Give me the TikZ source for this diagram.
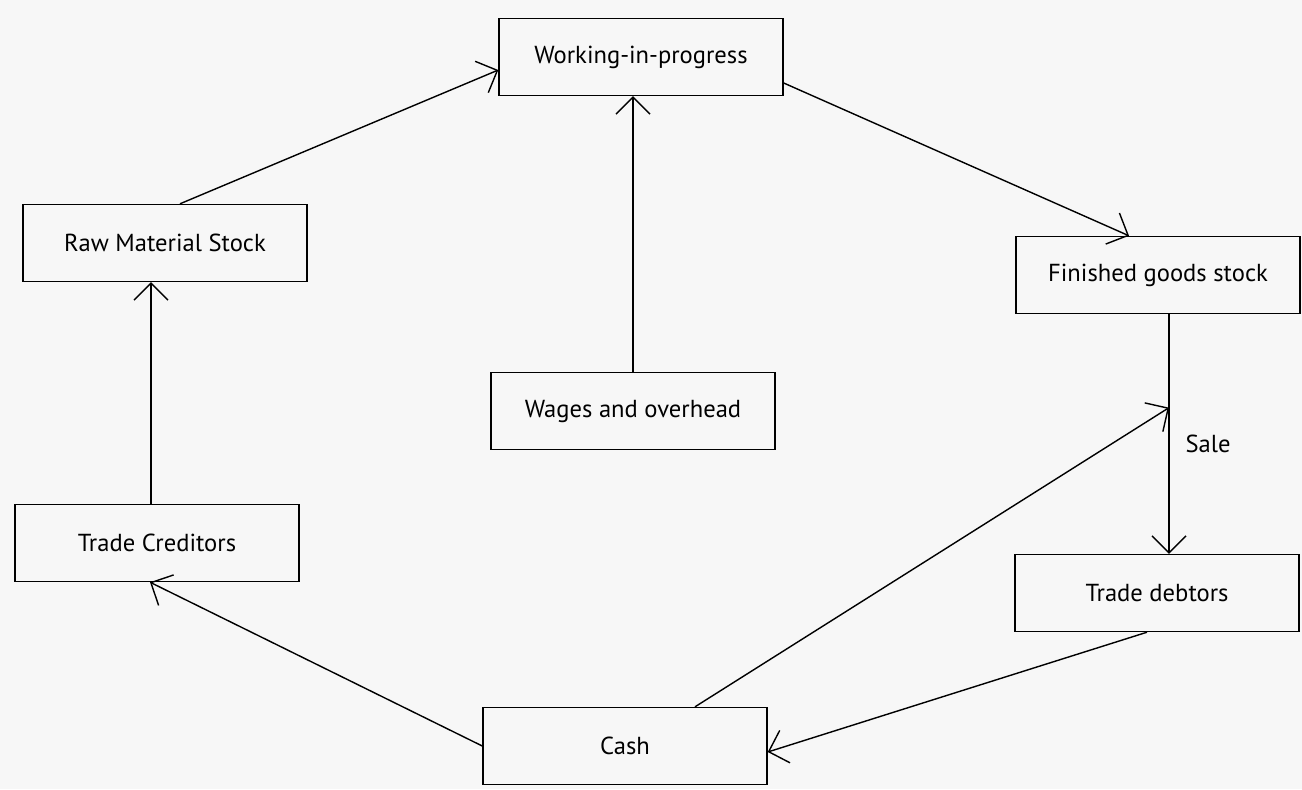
\documentclass[tikz,border=0pt]{standalone}
\usepackage{fontspec}
\setmainfont{PT Sans}
\usepackage{xcolor}
\usepackage{tikz}
\usetikzlibrary{arrows.meta,positioning,calc}

\begin{document}
\begin{tikzpicture}[
    stockbox/.style={rectangle, draw=black, line width=0.8pt, minimum width=5.68cm, minimum height=1.54cm, font=\fontsize{14}{16}\selectfont},
    flow/.style={draw=black, line width=0.8pt, -{Straight Barb[length=3.4mm, width=6.8mm, line width=0.8pt]}},
    flowlabel/.style={font=\fontsize{14}{16}\selectfont},
]

% Page size
\fill[black!3] (0,0) rectangle (26.04,-15.78);
\useasboundingbox (0,0) rectangle (26.04,-15.78);

% Stocks in the cycle
\node[stockbox] (wip) at (12.82,-1.14) {Working-in-progress};
\node[stockbox] (raw) at (3.30,-4.86) {Raw Material Stock};
\node[stockbox] (fin) at (23.16,-5.50) {Finished goods stock};
\node[stockbox] (wag) at (12.66,-8.22) {Wages and overhead};
\node[stockbox] (tcr) at (3.14,-10.86) {Trade Creditors};
\node[stockbox] (tdb) at (23.14,-11.86) {Trade debtors};
\node[stockbox] (cash) at (12.50,-14.92) {Cash};

% Points on the sale line
\coordinate (saletop) at ([xshift=0.22cm]fin.south);
\coordinate (salebot) at (saletop |- tdb.north);
\coordinate (salein) at ($(saletop)!0.39!(salebot)$);

% Flows
\draw[flow] ([xshift=0.3cm]raw.north) -- ([yshift=-0.26cm]wip.west);
\draw[flow] (wag.north) -- (wag.north |- wip.south);
\draw[flow] ([yshift=-0.52cm]wip.east) -- ([xshift=-0.58cm]fin.north);
\draw[flow] (saletop) -- node[flowlabel, right=0.2cm, pos=0.54] (sale) {Sale} (salebot);
\draw[flow] ([xshift=1.4cm]cash.north) -- (salein);
\draw[flow] ([xshift=-0.2cm]tdb.south) -- ([yshift=-0.12cm]cash.east);
\draw[flow] (cash.west) -- ([xshift=-0.14cm]tcr.south);
\draw[flow] ([xshift=-0.12cm]tcr.north) -- ([xshift=-0.12cm]tcr.north |- raw.south);

\end{tikzpicture}
\end{document}
